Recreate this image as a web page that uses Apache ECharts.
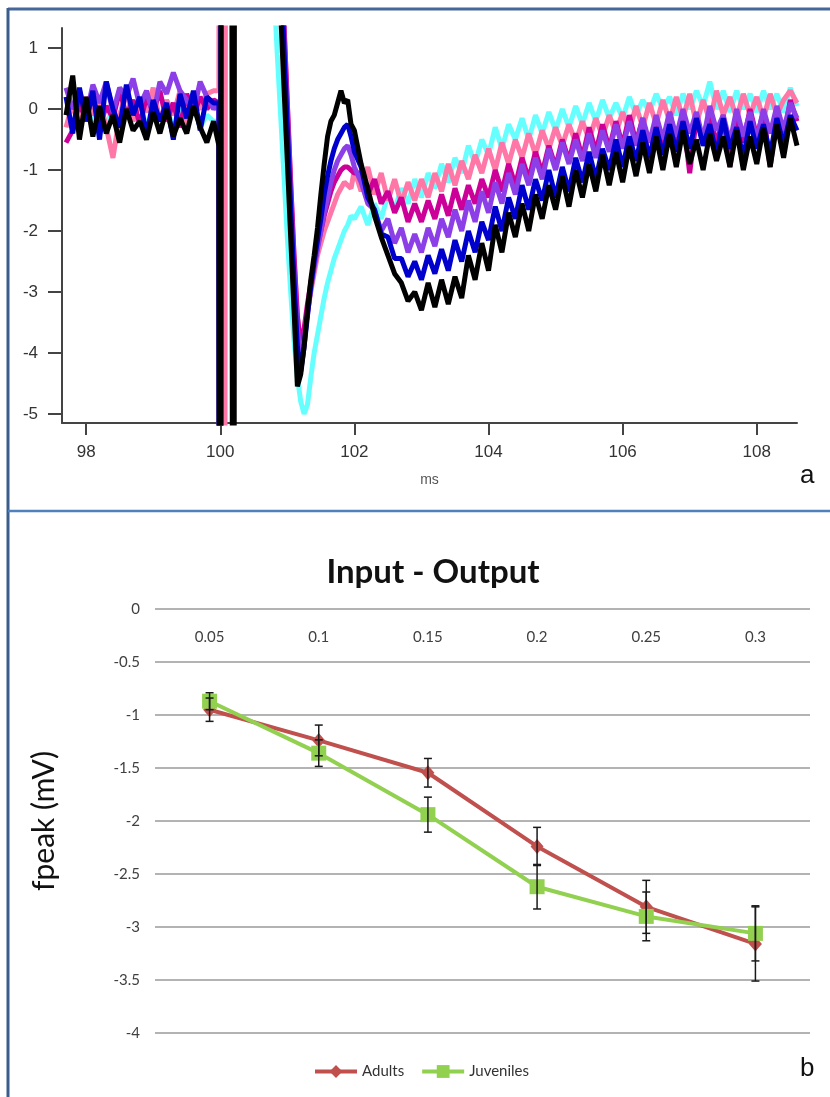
<!DOCTYPE html>
<html>
<head>
<meta charset="utf-8">
<title>field potentials / input-output</title>
<script src="https://cdn.jsdelivr.net/npm/echarts@6/dist/echarts.min.js"></script>
<style>
  html, body { margin: 0; padding: 0; background: #fff; }
  #chart { width: 830px; height: 1097px; }
</style>
</head>
<body>
<div id="chart"></div>
<script>
// ---- panel a : recorded traces (ms / mV) ----
var timeMs = [
  97.7, 97.8, 97.9, 98.0, 98.1, 98.2, 98.3, 98.4, 98.5, 98.6, 98.7, 98.8, 98.9, 99.0, 99.1, 99.2, 99.3, 99.4, 99.5, 99.6, 99.7, 99.8, 99.9,
  99.98, 100.0, 100.02, 100.05, 100.1, 100.15, 100.2, 100.22, 100.3, 100.5, 100.7, 100.8,
  100.85, 100.9, 100.95, 101.0, 101.05, 101.1, 101.15, 101.2, 101.25, 101.3, 101.35, 101.4, 101.45, 101.5, 101.55, 101.6, 101.65, 101.7, 101.75, 101.8, 101.85, 101.9, 101.95, 102.0,
  102.1, 102.2, 102.3, 102.4, 102.5, 102.6, 102.7, 102.8, 102.9,
  103.0, 103.1, 103.2, 103.3, 103.4, 103.5, 103.6, 103.7, 103.8, 103.9,
  104.0, 104.1, 104.2, 104.3, 104.4, 104.5, 104.6, 104.7, 104.8, 104.9,
  105.0, 105.1, 105.2, 105.3, 105.4, 105.5, 105.6, 105.7, 105.8, 105.9,
  106.0, 106.1, 106.2, 106.3, 106.4, 106.5, 106.6, 106.7, 106.8, 106.9,
  107.0, 107.1, 107.2, 107.3, 107.4, 107.5, 107.6, 107.7, 107.8, 107.9,
  108.0, 108.1, 108.2, 108.3, 108.4, 108.5, 108.6
];

// values out of range (+-30) are the clipped stimulus artifact
var cyanTrace = [
  -0.1, 0.1, -0.3, 0.0, -0.2, 0.1, -0.3, 0.05, -0.25, 0.0, -0.2, 0.1, -0.3, -0.05, -0.2, 0.05, -0.35, 0.0, -0.15, 0.1, -0.3, -0.1, -0.2,
  -0.2, -30, 30, 30, 30, 30, 30, 30, 30, 30, 30, 2.0,
  0.9, -0.1, -1.1, -2.1, -3.0, -3.8, -4.4, -4.8, -5.0, -4.85, -4.4, -4.0, -3.7, -3.4, -3.1, -2.85, -2.65, -2.45, -2.3, -2.15, -2.0, -1.9, -1.75, -1.8,
  -1.6, -1.9, -1.55, -1.8, -1.4, -1.65, -1.3, -1.55, -1.15,
  -1.45, -1.05, -1.3, -0.9, -1.2, -0.8, -1.05, -0.6, -0.9, -0.5,
  -0.75, -0.3, -0.65, -0.25, -0.5, -0.15, -0.5, -0.1, -0.4, -0.05,
  -0.35, 0.0, -0.3, 0.05, -0.25, 0.1, -0.2, 0.15, -0.15, 0.1,
  -0.15, 0.2, -0.1, 0.15, -0.05, 0.25, 0.0, 0.2, -0.1, 0.25,
  0.0, 0.3, 0.05, 0.45, 0.0, 0.3, -0.05, 0.3, 0.0, 0.25,
  -0.05, 0.3, 0.0, 0.25, -0.05, 0.35, 0.05
];
var pinkTrace = [
  -0.3, 0.1, -0.35, 0.2, -0.1, 0.15, -0.3, -0.8, -0.1, 0.3, -0.2, 0.1, -0.05, 0.35, -0.2, 0.15, -0.1, 0.3, -0.25, 0.1, 0.0, 0.25, 0.3,
  0.3, 30, 30, -30, 30, 30, 30, 30, 30, 30, 30, 30,
  12, 3.0, 1.4, 0.1, -1.2, -2.4, -3.4, -3.85, -3.7, -3.35, -3.0, -2.7, -2.4, -2.2, -2.0, -1.85, -1.7, -1.55, -1.4, -1.3, -1.2, -1.25, -1.3, -1.0,
  -1.35, -0.95, -1.4, -1.05, -1.5, -1.15, -1.55, -1.2, -1.5,
  -1.15, -1.45, -1.05, -1.35, -0.9, -1.25, -0.85, -1.15, -0.75, -1.05,
  -0.65, -1.0, -0.55, -0.9, -0.5, -0.8, -0.4, -0.75, -0.35, -0.65,
  -0.3, -0.6, -0.25, -0.55, -0.2, -0.5, -0.15, -0.45, -0.1, -0.4,
  -0.05, -0.35, 0.05, -0.3, 0.1, -0.25, 0.15, -0.2, 0.2, -0.15,
  0.25, -0.25, 0.15, -0.2, 0.3, -0.1, 0.2, -0.15, 0.25, -0.1,
  0.2, -0.15, 0.25, -0.1, 0.15, 0.3, 0.1
];
var magentaTrace = [
  -0.55, -0.35, 0.1, -0.2, 0.25, -0.3, 0.05, -0.15, 0.3, -0.1, 0.15, -0.25, 0.2, -0.05, 0.3, -0.2, 0.1, -0.3, 0.25, -0.1, 0.2, 0.0, 0.15,
  0.1, -30, 30, 30, 30, 30, 30, 30, 30, 30, 30, 30,
  12, 3.0, 1.4, 0.1, -1.2, -2.4, -3.4, -3.9, -3.6, -3.2, -2.85, -2.55, -2.25, -2.0, -1.75, -1.55, -1.35, -1.2, -1.1, -1.0, -0.95, -0.95, -1.0, -1.05,
  -1.05, -1.4, -1.15, -1.55, -1.35, -1.7, -1.45, -1.85, -1.55,
  -1.85, -1.5, -1.8, -1.4, -1.75, -1.3, -1.65, -1.25, -1.55, -1.15,
  -1.45, -1.0, -1.35, -0.9, -1.25, -0.8, -1.15, -0.7, -1.05, -0.6,
  -0.95, -0.5, -0.85, -0.4, -0.8, -0.3, -0.7, -0.25, -0.65, -0.2,
  -0.6, -0.1, -0.55, -0.15, -0.95, -0.2, -0.65, -0.05, -0.55, -0.15,
  -1.05, -0.15, -0.5, -0.05, -0.6, -0.1, -0.95, -0.15, -0.55, 0.0,
  -0.45, -0.05, -0.95, -0.1, -0.5, 0.15, -0.2
];
var violetTrace = [
  0.35, 0.0, 0.3, -0.1, 0.4, 0.1, 0.45, -0.05, 0.35, 0.2, 0.5, 0.05, 0.3, -0.1, 0.45, 0.25, 0.6, 0.3, 0.15, -0.05, 0.45, 0.2, 0.0,
  0.1, -30, 30, 30, 30, 30, 30, 30, 30, 30, 30, 30,
  12, 2.8, 1.2, -0.1, -1.4, -2.6, -3.6, -4.1, -3.8, -3.35, -2.95, -2.6, -2.3, -2.0, -1.7, -1.45, -1.2, -1.0, -0.85, -0.75, -0.65, -0.6, -0.75, -0.95,
  -1.2, -1.55, -1.65, -2.0, -1.8, -2.2, -1.95, -2.35, -2.05,
  -2.35, -1.95, -2.25, -1.8, -2.1, -1.65, -2.0, -1.5, -1.85, -1.35,
  -1.7, -1.2, -1.55, -1.05, -1.4, -0.9, -1.25, -0.8, -1.15, -0.65,
  -1.0, -0.55, -0.9, -0.5, -0.85, -0.4, -0.8, -0.35, -0.7, -0.25,
  -0.65, -0.2, -0.6, -0.15, -0.55, -0.1, -0.5, -0.05, -0.45, 0.0,
  -0.4, -0.05, -0.5, 0.05, -0.35, -0.1, -0.55, 0.0, -0.45, -0.05,
  -0.5, 0.0, -0.4, 0.05, -0.35, 0.1, -0.15
];
var blueTrace = [
  0.2, -0.4, 0.35, -0.2, 0.3, -0.5, 0.45, 0.0, -0.3, 0.4, -0.1, 0.2, -0.45, 0.15, -0.2, 0.1, -0.5, 0.25, -0.15, 0.3, -0.35, 0.2, 0.1,
  0.1, -30, 30, 30, 30, 30, 30, 30, 30, 30, 30, 30,
  10, 2.5, 1.0, -0.3, -1.6, -2.8, -3.9, -4.3, -3.9, -3.4, -2.9, -2.5, -2.15, -1.8, -1.4, -1.1, -0.85, -0.65, -0.5, -0.4, -0.3, -0.25, -0.45, -0.7,
  -0.95, -1.45, -1.65, -2.05, -2.1, -2.45, -2.45, -2.75, -2.5,
  -2.8, -2.4, -2.7, -2.3, -2.65, -2.15, -2.5, -2.0, -2.35, -1.85,
  -2.15, -1.6, -2.0, -1.45, -1.8, -1.25, -1.65, -1.15, -1.5, -1.0,
  -1.45, -0.95, -1.35, -0.8, -1.2, -0.7, -1.15, -0.65, -1.0, -0.5,
  -0.95, -0.45, -0.85, -0.35, -0.8, -0.3, -0.75, -0.25, -0.7, -0.2,
  -0.65, -0.15, -0.6, -0.25, -0.75, -0.15, -0.65, -0.3, -0.8, -0.2,
  -0.65, -0.25, -0.75, -0.15, -0.6, -0.1, -0.35
];
var blackTrace = [
  -0.1, 0.55, -0.5, 0.2, -0.45, 0.05, -0.4, -0.1, -0.55, 0.0, -0.35, -0.2, -0.5, -0.05, -0.4, 0.0, -0.45, -0.15, -0.4, 0.05, -0.3, -0.55, -0.2,
  -0.6, -30, 30, 30, 30, 30, -30, 30, 30, 30, 30, 30,
  8, 1.6, 0.35, -0.85, -2.1, -3.3, -4.55, -4.35, -3.9, -3.3, -2.8, -2.4, -1.95, -1.4, -0.9, -0.45, -0.2, -0.1, 0.1, 0.3, 0.1, 0.15, -0.25, -0.35,
  -0.9, -1.3, -1.75, -2.1, -2.4, -2.7, -2.85, -3.15, -3.0,
  -3.3, -2.85, -3.25, -2.8, -3.2, -2.75, -3.1, -2.4, -2.8, -2.2,
  -2.65, -1.9, -2.35, -1.7, -2.1, -1.55, -2.0, -1.4, -1.8, -1.25,
  -1.65, -1.1, -1.6, -1.0, -1.45, -0.9, -1.35, -0.75, -1.25, -0.7,
  -1.2, -0.6, -1.1, -0.55, -1.05, -0.45, -1.0, -0.4, -0.95, -0.35,
  -0.9, -0.5, -1.0, -0.4, -0.85, -0.45, -0.95, -0.35, -1.0, -0.45,
  -0.9, -0.3, -0.95, -0.25, -0.8, -0.15, -0.6
];
var msTicks = [98, 100, 102, 104, 106, 108];
var mvTicks = [-5, -4, -3, -2, -1, 0, 1];

// ---- panel b : input - output ----
var stimulus = ['0.05', '0.1', '0.15', '0.2', '0.25', '0.3'];
var adultsMean = [-0.95, -1.24, -1.545, -2.24, -2.81, -3.16];
var adultsErr = [0.11, 0.145, 0.135, 0.18, 0.25, 0.35];
var juvenilesMean = [-0.87, -1.36, -1.94, -2.62, -2.90, -3.06];
var juvenilesErr = [0.08, 0.125, 0.165, 0.21, 0.23, 0.26];

var chart = echarts.init(document.getElementById('chart'));

function pairs (vals) {
  return timeMs.map(function (t, i) { return [t, vals[i]]; });
}

var traces = [
  { values: cyanTrace, color: '#66ffff' },
  { values: pinkTrace, color: '#ff77a6' },
  { values: magentaTrace, color: '#cc0099' },
  { values: violetTrace, color: '#8c3fe6' },
  { values: blueTrace, color: '#0000cc' },
  { values: blackTrace, color: '#000000' }
];

var traceSeries = traces.map(function (tr, i) {
  return {
    type: 'line',
    xAxisIndex: 0,
    yAxisIndex: 0,
    data: pairs(tr.values),
    showSymbol: false,
    clip: true,
    z: 2 + i,
    lineStyle: { color: tr.color, width: 5 },
    silent: true
  };
});

function errorBars (means, errs) {
  return means.map(function (m, i) { return [i, m - errs[i], m + errs[i]]; });
}

function renderErrorBar (params, api) {
  var lo = api.coord([api.value(0), api.value(1)]);
  var hi = api.coord([api.value(0), api.value(2)]);
  var half = 4;
  var style = { stroke: '#1a1a1a', lineWidth: 1.5 };
  return {
    type: 'group',
    children: [
      { type: 'line', shape: { x1: hi[0], y1: hi[1], x2: lo[0], y2: lo[1] }, style: style },
      { type: 'line', shape: { x1: hi[0] - half, y1: hi[1], x2: hi[0] + half, y2: hi[1] }, style: style },
      { type: 'line', shape: { x1: lo[0] - half, y1: lo[1], x2: lo[0] + half, y2: lo[1] }, style: style }
    ]
  };
}

var axisFont = 'Liberation Sans, Arial, sans-serif';
var xlFont = 'Lato, Open Sans, sans-serif';

var option = {
  backgroundColor: '#ffffff',
  animation: false,
  title: {
    text: 'Input - Output',
    left: 428,
    top: 551,
    textAlign: 'center',
    textStyle: { fontSize: 33, fontWeight: 'bold', fontFamily: xlFont, color: '#111' }
  },
  legend: {
    data: ['Adults', 'Juveniles'],
    left: 308,
    top: 1059,
    itemWidth: 42,
    itemHeight: 16,
    itemGap: 16,
    lineStyle: { width: 4 },
    textStyle: { fontSize: 15, fontFamily: xlFont, color: '#333' }
  },
  grid: [
    { left: 62, top: 28, width: 735, height: 395 },
    { left: 155, top: 609, width: 655, height: 424 }
  ],
  xAxis: [
    {
      gridIndex: 0,
      type: 'value',
      min: 97.64,
      max: 108.6,
      name: 'ms',
      nameLocation: 'middle',
      nameGap: 50,
      nameTextStyle: { fontSize: 14, fontFamily: axisFont, color: '#555' },
      splitLine: { show: false },
      axisLine: { show: true, onZero: false, lineStyle: { color: '#444', width: 2 } },
      axisTick: { show: true, length: 12, customValues: msTicks, lineStyle: { color: '#444', width: 2 } },
      axisLabel: { customValues: msTicks, margin: 21, fontSize: 17, fontFamily: axisFont, color: '#333' }
    },
    {
      gridIndex: 1,
      type: 'category',
      data: stimulus,
      position: 'top',
      boundaryGap: true,
      axisLine: { show: false },
      axisTick: { show: false },
      axisLabel: { inside: true, margin: 21, fontSize: 15, fontFamily: xlFont, color: '#404040' }
    }
  ],
  yAxis: [
    {
      gridIndex: 0,
      type: 'value',
      min: -5.15,
      max: 1.33,
      splitLine: { show: false },
      axisLine: { show: true, onZero: false, lineStyle: { color: '#444', width: 2 } },
      axisTick: { show: true, length: 14, customValues: mvTicks, lineStyle: { color: '#444', width: 2 } },
      axisLabel: { customValues: mvTicks, margin: 24, fontSize: 17, fontFamily: axisFont, color: '#333' }
    },
    {
      gridIndex: 1,
      type: 'value',
      min: -4,
      max: 0,
      interval: 0.5,
      name: 'fpeak (mV)',
      nameLocation: 'middle',
      nameGap: 96,
      nameTextStyle: { fontSize: 30, fontFamily: xlFont, color: '#111' },
      axisLine: { show: false },
      axisTick: { show: false },
      splitLine: { show: true, lineStyle: { color: '#9a9a9a', width: 1.5 } },
      axisLabel: { margin: 15, fontSize: 15, fontFamily: xlFont, color: '#404040' }
    }
  ],
  series: traceSeries.concat([
    {
      name: 'Adults',
      type: 'line',
      xAxisIndex: 1,
      yAxisIndex: 1,
      data: adultsMean,
      symbol: 'diamond',
      symbolSize: [13, 15],
      z: 10,
      itemStyle: { color: '#c0504d' },
      lineStyle: { color: '#c0504d', width: 4 }
    },
    {
      name: 'Juveniles',
      type: 'line',
      xAxisIndex: 1,
      yAxisIndex: 1,
      data: juvenilesMean,
      symbol: 'rect',
      symbolSize: 15,
      z: 11,
      itemStyle: { color: '#92d050' },
      lineStyle: { color: '#92d050', width: 4 }
    },
    {
      type: 'custom',
      xAxisIndex: 1,
      yAxisIndex: 1,
      data: errorBars(adultsMean, adultsErr),
      renderItem: renderErrorBar,
      z: 12,
      silent: true
    },
    {
      type: 'custom',
      xAxisIndex: 1,
      yAxisIndex: 1,
      data: errorBars(juvenilesMean, juvenilesErr),
      renderItem: renderErrorBar,
      z: 12,
      silent: true
    }
  ]),
  graphic: [
    // panel frames
    { type: 'line', shape: { x1: 8, y1: 9, x2: 830, y2: 9 }, style: { stroke: '#45679a', lineWidth: 3 } },
    { type: 'line', shape: { x1: 8, y1: 8, x2: 8, y2: 1097 }, style: { stroke: '#3b5d8d', lineWidth: 3 } },
    { type: 'line', shape: { x1: 8, y1: 511, x2: 830, y2: 511 }, style: { stroke: '#4f81bd', lineWidth: 2.5 } },
    { type: 'text', left: 800, top: 463, style: { text: 'a', fontSize: 26, fontFamily: axisFont, fill: '#111' } },
    { type: 'text', left: 800, top: 1056, style: { text: 'b', fontSize: 26, fontFamily: axisFont, fill: '#111' } }
  ]
};

chart.setOption(option);
</script>
</body>
</html>
